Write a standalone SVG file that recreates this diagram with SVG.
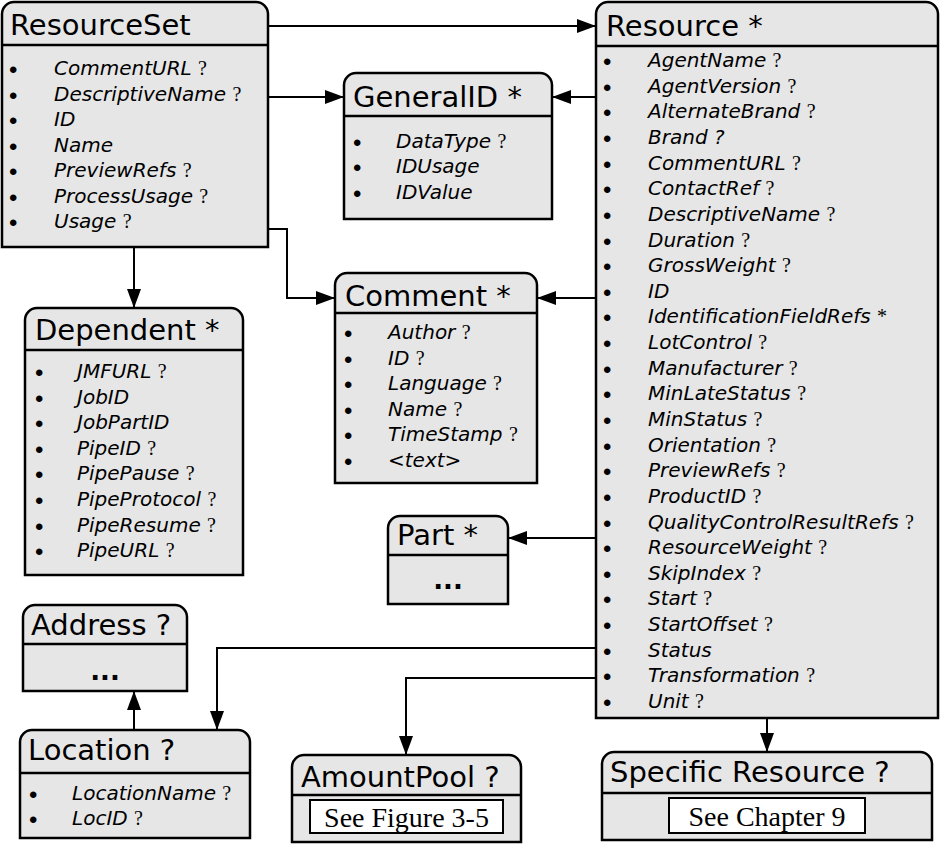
<svg xmlns="http://www.w3.org/2000/svg" width="940" height="844" viewBox="0 0 940 844">
<defs>
<marker id="a" markerUnits="userSpaceOnUse" markerWidth="19" markerHeight="14" refX="19" refY="7" orient="auto">
<path d="M0,0 L19,7 L0,14 Z" fill="#000"/>
</marker>
<style>
.box{fill:#e6e6e6;stroke:#000;stroke-width:2.5}
.dv{stroke:#000;stroke-width:2.5;fill:none}
.t{font-family:"DejaVu Sans",Verdana,sans-serif;font-size:29px;fill:#000}
.i{font-family:"DejaVu Sans",Verdana,sans-serif;font-size:20px;font-style:italic;fill:#000}
.q{font-family:"Liberation Serif","Times New Roman",serif;font-style:normal}
.b{font-family:"Liberation Sans",Arial,sans-serif;font-size:24px;font-style:normal}
.d{font-family:"DejaVu Sans",Verdana,sans-serif;font-size:26px;font-weight:bold;text-anchor:middle}
.s{font-family:"Liberation Serif","Times New Roman",serif;font-size:28px;text-anchor:middle}
.w{fill:#fff;stroke:#000;stroke-width:2}
.c{fill:none;stroke:#000;stroke-width:2;marker-end:url(#a)}
</style>
</defs>
<rect width="940" height="844" fill="#fff"/>

<g id="connectors">
<path class="c" d="M268,26 H596"/>
<path class="c" d="M268,97 H344"/>
<path class="c" d="M596,97 H552"/>
<path class="c" d="M268,229 H287 V298 H335"/>
<path class="c" d="M596,298 H537"/>
<path class="c" d="M134,247 V308"/>
<path class="c" d="M596,538 H508"/>
<path class="c" d="M596,648 H217 V730"/>
<path class="c" d="M596,678 H406 V755"/>
<path class="c" d="M767,718 V752"/>
<path class="c" d="M134,730 V691"/>
</g>

<g id="ResourceSet">
<path class="box" d="M2,247 V14 A12,12 0 0 1 14,2 H256 A12,12 0 0 1 268,14 V247 Z"/>
<path class="dv" d="M2,45 H268"/>
<text class="t" x="10" y="35">ResourceSet</text>
<text class="i" y="75"><tspan class="b" x="9" dy="3">•</tspan><tspan x="54" dy="-3">CommentURL </tspan><tspan class="q">?</tspan></text>
<text class="i" y="100.5"><tspan class="b" x="9" dy="3">•</tspan><tspan x="54" dy="-3">DescriptiveName </tspan><tspan class="q">?</tspan></text>
<text class="i" y="126"><tspan class="b" x="9" dy="3">•</tspan><tspan x="54" dy="-3">ID</tspan></text>
<text class="i" y="151.5"><tspan class="b" x="9" dy="3">•</tspan><tspan x="54" dy="-3">Name</tspan></text>
<text class="i" y="177"><tspan class="b" x="9" dy="3">•</tspan><tspan x="54" dy="-3">PreviewRefs </tspan><tspan class="q">?</tspan></text>
<text class="i" y="202.5"><tspan class="b" x="9" dy="3">•</tspan><tspan x="54" dy="-3">ProcessUsage </tspan><tspan class="q">?</tspan></text>
<text class="i" y="228"><tspan class="b" x="9" dy="3">•</tspan><tspan x="54" dy="-3">Usage </tspan><tspan class="q">?</tspan></text>
</g>

<g id="Resource">
<path class="box" d="M596,718 V14 A12,12 0 0 1 608,2 H926 A12,12 0 0 1 938,14 V718 Z"/>
<path class="dv" d="M596,46 H938"/>
<text class="t" x="606" y="36">Resource *</text>
<text class="i" y="67"><tspan class="b" x="603" dy="3">•</tspan><tspan x="648" dy="-3">AgentName </tspan><tspan class="q">?</tspan></text>
<text class="i" y="92.6"><tspan class="b" x="603" dy="3">•</tspan><tspan x="648" dy="-3">AgentVersion </tspan><tspan class="q">?</tspan></text>
<text class="i" y="118.3"><tspan class="b" x="603" dy="3">•</tspan><tspan x="648" dy="-3">AlternateBrand </tspan><tspan class="q">?</tspan></text>
<text class="i" y="143.9"><tspan class="b" x="603" dy="3">•</tspan><tspan x="648" dy="-3">Brand ?</tspan></text>
<text class="i" y="169.6"><tspan class="b" x="603" dy="3">•</tspan><tspan x="648" dy="-3">CommentURL </tspan><tspan class="q">?</tspan></text>
<text class="i" y="195.2"><tspan class="b" x="603" dy="3">•</tspan><tspan x="648" dy="-3">ContactRef </tspan><tspan class="q">?</tspan></text>
<text class="i" y="220.8"><tspan class="b" x="603" dy="3">•</tspan><tspan x="648" dy="-3">DescriptiveName </tspan><tspan class="q">?</tspan></text>
<text class="i" y="246.5"><tspan class="b" x="603" dy="3">•</tspan><tspan x="648" dy="-3">Duration </tspan><tspan class="q">?</tspan></text>
<text class="i" y="272.1"><tspan class="b" x="603" dy="3">•</tspan><tspan x="648" dy="-3">GrossWeight </tspan><tspan class="q">?</tspan></text>
<text class="i" y="297.8"><tspan class="b" x="603" dy="3">•</tspan><tspan x="648" dy="-3">ID</tspan></text>
<text class="i" y="323.4"><tspan class="b" x="603" dy="3">•</tspan><tspan x="648" dy="-3">IdentificationFieldRefs </tspan><tspan class="q">*</tspan></text>
<text class="i" y="349"><tspan class="b" x="603" dy="3">•</tspan><tspan x="648" dy="-3">LotControl </tspan><tspan class="q">?</tspan></text>
<text class="i" y="374.7"><tspan class="b" x="603" dy="3">•</tspan><tspan x="648" dy="-3">Manufacturer </tspan><tspan class="q">?</tspan></text>
<text class="i" y="400.3"><tspan class="b" x="603" dy="3">•</tspan><tspan x="648" dy="-3">MinLateStatus </tspan><tspan class="q">?</tspan></text>
<text class="i" y="426"><tspan class="b" x="603" dy="3">•</tspan><tspan x="648" dy="-3">MinStatus </tspan><tspan class="q">?</tspan></text>
<text class="i" y="451.6"><tspan class="b" x="603" dy="3">•</tspan><tspan x="648" dy="-3">Orientation </tspan><tspan class="q">?</tspan></text>
<text class="i" y="477.2"><tspan class="b" x="603" dy="3">•</tspan><tspan x="648" dy="-3">PreviewRefs </tspan><tspan class="q">?</tspan></text>
<text class="i" y="502.9"><tspan class="b" x="603" dy="3">•</tspan><tspan x="648" dy="-3">ProductID </tspan><tspan class="q">?</tspan></text>
<text class="i" y="528.5"><tspan class="b" x="603" dy="3">•</tspan><tspan x="648" dy="-3">QualityControlResultRefs </tspan><tspan class="q">?</tspan></text>
<text class="i" y="554.2"><tspan class="b" x="603" dy="3">•</tspan><tspan x="648" dy="-3">ResourceWeight </tspan><tspan class="q">?</tspan></text>
<text class="i" y="579.8"><tspan class="b" x="603" dy="3">•</tspan><tspan x="648" dy="-3">SkipIndex </tspan><tspan class="q">?</tspan></text>
<text class="i" y="605.4"><tspan class="b" x="603" dy="3">•</tspan><tspan x="648" dy="-3">Start </tspan><tspan class="q">?</tspan></text>
<text class="i" y="631.1"><tspan class="b" x="603" dy="3">•</tspan><tspan x="648" dy="-3">StartOffset </tspan><tspan class="q">?</tspan></text>
<text class="i" y="656.7"><tspan class="b" x="603" dy="3">•</tspan><tspan x="648" dy="-3">Status</tspan></text>
<text class="i" y="682.4"><tspan class="b" x="603" dy="3">•</tspan><tspan x="648" dy="-3">Transformation </tspan><tspan class="q">?</tspan></text>
<text class="i" y="708"><tspan class="b" x="603" dy="3">•</tspan><tspan x="648" dy="-3">Unit </tspan><tspan class="q">?</tspan></text>
</g>

<g id="GeneralID">
<path class="box" d="M344,219 V85 A12,12 0 0 1 356,73 H540 A12,12 0 0 1 552,85 V219 Z"/>
<path class="dv" d="M344,116 H552"/>
<text class="t" x="353" y="107">GeneralID *</text>
<text class="i" y="147.5"><tspan class="b" x="353" dy="3">•</tspan><tspan x="396" dy="-3">DataType </tspan><tspan class="q">?</tspan></text>
<text class="i" y="173"><tspan class="b" x="353" dy="3">•</tspan><tspan x="396" dy="-3">IDUsage</tspan></text>
<text class="i" y="198.5"><tspan class="b" x="353" dy="3">•</tspan><tspan x="396" dy="-3">IDValue</tspan></text>
</g>

<g id="Comment">
<path class="box" d="M335,483 V285 A12,12 0 0 1 347,273 H525 A12,12 0 0 1 537,285 V483 Z"/>
<path class="dv" d="M335,313 H537"/>
<text class="t" x="345" y="306">Comment *</text>
<text class="i" y="339"><tspan class="b" x="344" dy="3">•</tspan><tspan x="388" dy="-3">Author </tspan><tspan class="q">?</tspan></text>
<text class="i" y="364.6"><tspan class="b" x="344" dy="3">•</tspan><tspan x="388" dy="-3">ID </tspan><tspan class="q">?</tspan></text>
<text class="i" y="390.2"><tspan class="b" x="344" dy="3">•</tspan><tspan x="388" dy="-3">Language </tspan><tspan class="q">?</tspan></text>
<text class="i" y="415.8"><tspan class="b" x="344" dy="3">•</tspan><tspan x="388" dy="-3">Name </tspan><tspan class="q">?</tspan></text>
<text class="i" y="441.4"><tspan class="b" x="344" dy="3">•</tspan><tspan x="388" dy="-3">TimeStamp </tspan><tspan class="q">?</tspan></text>
<text class="i" y="467"><tspan class="b" x="344" dy="3">•</tspan><tspan x="388" dy="-3">&lt;text&gt;</tspan></text>
</g>

<g id="Dependent">
<path class="box" d="M25,575 V320 A12,12 0 0 1 37,308 H231 A12,12 0 0 1 243,320 V575 Z"/>
<path class="dv" d="M25,350 H243"/>
<text class="t" x="35" y="340">Dependent *</text>
<text class="i" y="378"><tspan class="b" x="35" dy="3">•</tspan><tspan x="77" dy="-3">JMFURL </tspan><tspan class="q">?</tspan></text>
<text class="i" y="403.6"><tspan class="b" x="35" dy="3">•</tspan><tspan x="77" dy="-3">JobID</tspan></text>
<text class="i" y="429.2"><tspan class="b" x="35" dy="3">•</tspan><tspan x="77" dy="-3">JobPartID</tspan></text>
<text class="i" y="454.8"><tspan class="b" x="35" dy="3">•</tspan><tspan x="77" dy="-3">PipeID </tspan><tspan class="q">?</tspan></text>
<text class="i" y="480.4"><tspan class="b" x="35" dy="3">•</tspan><tspan x="77" dy="-3">PipePause </tspan><tspan class="q">?</tspan></text>
<text class="i" y="506"><tspan class="b" x="35" dy="3">•</tspan><tspan x="77" dy="-3">PipeProtocol </tspan><tspan class="q">?</tspan></text>
<text class="i" y="531.6"><tspan class="b" x="35" dy="3">•</tspan><tspan x="77" dy="-3">PipeResume </tspan><tspan class="q">?</tspan></text>
<text class="i" y="557.2"><tspan class="b" x="35" dy="3">•</tspan><tspan x="77" dy="-3">PipeURL </tspan><tspan class="q">?</tspan></text>
</g>

<g id="Part">
<path class="box" d="M388,604 V528 A12,12 0 0 1 400,516 H496 A12,12 0 0 1 508,528 V604 Z"/>
<path class="dv" d="M388,555 H508"/>
<text class="t" x="397" y="545">Part *</text>
<text class="d" x="448" y="589">...</text>
</g>

<g id="Address">
<path class="box" d="M23,691 V617 A12,12 0 0 1 35,605 H175 A12,12 0 0 1 187,617 V691 Z"/>
<path class="dv" d="M23,644 H187"/>
<text class="t" x="31" y="635">Address ?</text>
<text class="d" x="105" y="680">...</text>
</g>

<g id="Location">
<path class="box" d="M20,838 V742 A12,12 0 0 1 32,730 H238 A12,12 0 0 1 250,742 V838 Z"/>
<path class="dv" d="M20,773 H250"/>
<text class="t" x="28" y="760">Location ?</text>
<text class="i" y="800"><tspan class="b" x="29" dy="3">•</tspan><tspan x="72" dy="-3">LocationName </tspan><tspan class="q">?</tspan></text>
<text class="i" y="825"><tspan class="b" x="29" dy="3">•</tspan><tspan x="72" dy="-3">LocID </tspan><tspan class="q">?</tspan></text>
</g>

<g id="AmountPool">
<path class="box" d="M292,842 V767 A12,12 0 0 1 304,755 H509 A12,12 0 0 1 521,767 V842 Z"/>
<path class="dv" d="M292,795 H521"/>
<text class="t" x="301" y="787">AmountPool ?</text>
<rect class="w" x="310" y="800" width="193" height="33"/>
<text class="s" x="406.5" y="827">See Figure 3-5</text>
</g>

<g id="SpecificResource">
<path class="box" d="M602,840 V764 A12,12 0 0 1 614,752 H920 A12,12 0 0 1 932,764 V840 Z"/>
<path class="dv" d="M602,793 H932"/>
<text class="t" x="610" y="782">Specific Resource ?</text>
<rect class="w" x="669" y="798" width="196" height="35"/>
<text class="s" x="767" y="826">See Chapter 9</text>
</g>
</svg>
